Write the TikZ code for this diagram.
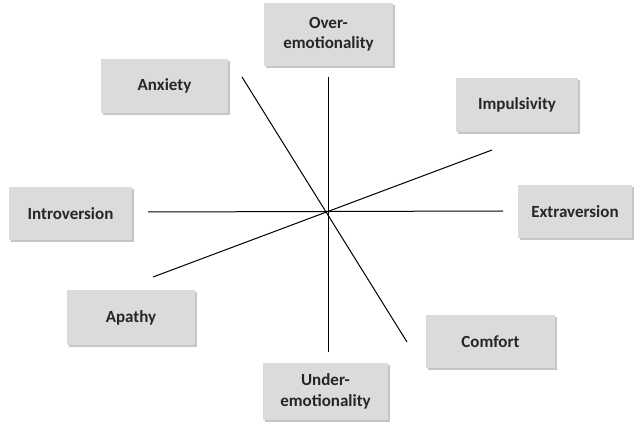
\documentclass[tikz,border=0pt]{standalone}
\usepackage{fontspec}
\setmainfont{Carlito}
\usetikzlibrary{shadows}
\definecolor{boxgray}{HTML}{DADBDD}
\definecolor{textgray}{HTML}{262626}
\begin{document}
\begin{tikzpicture}[x=1pt, y=-1pt, font=\bfseries\fontsize{17}{20.5}\selectfont,
	trait/.style={fill=boxgray, text=textgray, align=center, inner sep=0pt,
		drop shadow={shadow xshift=2pt, shadow yshift=-2pt, opacity=0.45, fill=gray}},
	axisline/.style={line width=1pt, draw=black}]
	\useasboundingbox (0,0) rectangle (635,422);
	%boxes
	\node[trait, minimum width=129, minimum height=63] (over) at (328.5,34.5) {Over-\\emotionality};
	\node[trait, minimum width=127, minimum height=54] (anxiety) at (164.5,86) {Anxiety};
	\node[trait, minimum width=122, minimum height=54] (impuls) at (517,105) {Impulsivity};
	\node[trait, minimum width=123, minimum height=53] (intro) at (70.5,213.5) {Introversion};
	\node[trait, minimum width=114, minimum height=53] (extra) at (575,211.5) {Extraversion};
	\node[trait, minimum width=129, minimum height=53] (comfort) at (490.5,341.5) {Comfort};
	\node[trait, minimum width=128, minimum height=55] (apathy) at (131,317.5) {Apathy};
	\node[trait, minimum width=125, minimum height=57] (under) at (325.5,391.5) {Under-\\emotionality};
	%axis ends
	\coordinate (top) at (328,77);
	\coordinate (bottom) at (328,352);
	\coordinate (left) at (148,212);
	\coordinate (right) at (503,211);
	\coordinate (anx end) at (242,77);
	\coordinate (com end) at (407,342);
	\coordinate (apa end) at (153,277);
	\coordinate (imp end) at (492,150);
	%axes
	\draw[axisline] (top) -- (bottom);
	\draw[axisline] (left) -- (right);
	\draw[axisline] (anx end) -- (com end);
	\draw[axisline] (apa end) -- (imp end);
\end{tikzpicture}
\end{document}
